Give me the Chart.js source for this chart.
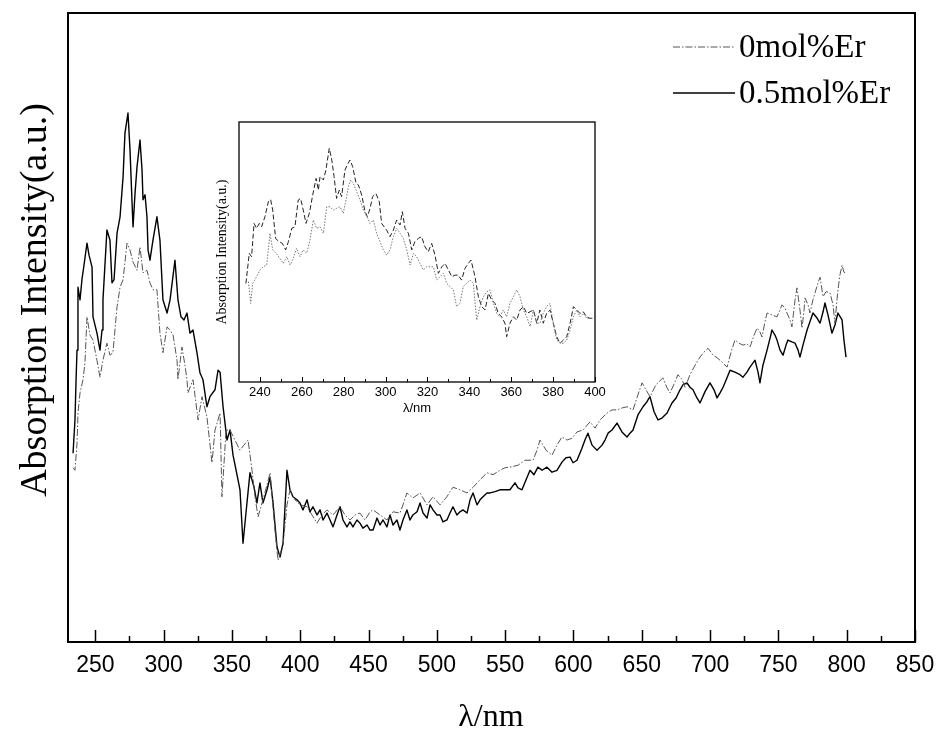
<!DOCTYPE html>
<html>
<head>
<meta charset="utf-8">
<script src="https://cdn.jsdelivr.net/npm/chart.js@4.4.0/dist/chart.umd.min.js"></script>
<style>
  body { margin: 0; background: #fff; }
  #wrap { position: relative; width: 938px; height: 731px; }
  #main { position: absolute; left: 0; top: 0; }
  #inset { position: absolute; left: 200px; top: 112px; }
</style>
</head>
<body>
<div id="wrap">
  <canvas id="main" width="938" height="731"></canvas>
  <canvas id="inset" width="410" height="308"></canvas>
</div>
<script>
// main spectrum, 0.5mol%Er (solid line)
const lambda05 = [233.7,235.1,235.9,236.6,237.3,238.8,240.2,241.7,243.9,245.4,247.6,248.3,251.2,253.4,254.9,255.6,258.5,260.7,262.2,263.7,265.9,268.1,270.3,271.7,273.9,275.4,276.8,277.6,279.0,280.5,282.7,284.2,284.9,286.4,287.8,288.6,290.0,292.2,295.1,297.3,299.5,302.5,304.7,308.3,310.5,312.7,314.9,317.1,319.3,321.5,324.4,326.6,328.8,331.7,333.9,337.6,339.8,341.3,343.5,346.4,348.6,350.8,353.7,355.9,358.1,361.0,363.2,366.2,368.3,370.5,372.7,375.7,377.9,380.1,383.0,385.2,387.4,390.3,392.5,394.7,397.6,399.8,402.0,405.0,407.1,409.3,412.3,414.5,416.7,419.6,421.8,424.0,426.9,429.1,431.3,434.2,436.4,438.6,441.5,443.7,445.9,448.9,451.1,453.3,456.2,458.4,460.6,463.5,465.7,467.9,470.8,473.0,475.2,478.1,480.3,482.5,485.5,487.7,489.9,492.8,495.0,497.2,500.1,502.3,504.5,507.4,509.6,511.8,514.7,516.9,519.1,522.1,524.3,526.5,529.4,531.6,533.8,536.7,538.9,542.6,546.2,549.9,553.5,557.2,559.4,562.3,565.3,568.2,571.1,574.0,577.0,580.6,584.3,587.9,591.6,594.5,597.5,599.7,602.6,606.2,608.4,610.6,613.6,617.2,620.9,623.1,625.3,628.2,631.9,635.5,639.2,641.4,643.6,647.2,650.9,653.8,656.0,659.0,661.9,664.8,668.5,672.1,675.1,678.0,680.2,683.1,685.3,687.5,690.4,692.6,696.3,699.9,702.9,705.1,707.3,709.5,712.4,714.6,718.2,721.9,724.1,727.0,729.2,732.9,735.1,736.5,738.7,741.7,743.9,745.3,747.5,749.0,751.2,753.4,755.6,757.0,759.9,762.2,764.4,765.8,768.0,771.0,773.1,775.3,778.3,780.5,782.7,784.1,786.3,789.2,791.4,793.6,796.6,798.0,799.5];
const int05 = [30.0,35.3,41.7,46.4,56.4,54.4,57.6,59.9,63.4,61.5,59.6,51.7,49.1,46.4,49.6,54.4,65.5,63.9,57.1,57.6,65.0,67.6,73.9,80.9,84.1,78.2,70.3,66.0,71.1,75.5,79.8,75.0,70.3,71.1,67.6,62.3,60.7,63.9,67.6,63.9,54.4,52.3,54.4,60.7,54.4,51.7,51.2,52.3,49.1,49.6,46.0,42.8,41.7,37.4,39.0,40.1,43.2,42.9,37.4,32.1,33.7,29.7,26.6,24.2,15.7,22.1,26.9,24.6,22.1,25.3,22.1,24.2,26.2,22.1,15.1,13.5,15.7,27.3,24.2,23.1,22.6,22.1,21.0,22.6,20.7,21.5,20.2,21.0,19.4,20.5,19.4,18.3,20.2,21.5,19.4,18.3,19.1,18.3,19.4,18.9,18.1,18.6,17.8,17.8,19.7,18.6,19.4,18.3,20.2,18.6,19.4,17.8,19.4,21.0,19.4,20.2,20.7,22.1,20.5,19.7,21.8,21.0,20.2,20.2,19.1,19.4,20.5,21.5,20.2,20.7,21.0,20.5,22.6,23.7,21.8,22.6,23.1,23.7,23.7,23.9,24.2,24.2,24.2,25.3,24.5,24.2,25.8,27.3,26.6,27.8,27.3,27.8,27.0,27.3,28.6,29.3,29.4,28.5,28.9,30.8,32.1,33.2,31.3,30.5,31.3,32.1,33.2,33.7,34.8,33.4,32.6,33.2,33.7,36.1,37.4,38.2,39.0,36.6,35.3,35.6,36.4,38.0,38.8,40.1,40.9,41.2,40.5,40.1,38.8,38.0,39.8,41.2,40.1,38.8,39.6,40.5,42.0,43.2,42.9,42.5,42.1,42.9,43.7,44.8,42.9,41.2,44.0,46.4,48.3,49.6,48.8,48.0,46.4,45.6,47.2,48.0,47.7,47.5,46.4,45.3,47.2,49.6,50.9,52.3,51.5,50.7,52.5,53.9,52.0,49.1,50.4,52.3,51.2,48.0,45.3];

// main spectrum, 0mol%Er (dash-dot line)
const lambda0 = [233.7,235.1,236.6,237.3,238.8,241.0,242.4,243.9,246.1,248.3,251.2,253.4,255.6,258.5,260.7,262.9,265.9,268.1,270.3,273.2,275.4,277.6,280.5,282.7,284.9,287.8,290.0,292.2,295.1,297.3,299.5,302.5,304.7,306.9,309.8,310.5,313.4,315.6,317.1,317.8,321.5,325.2,328.1,331.7,335.4,337.6,341.3,342.7,345.7,348.6,352.2,355.9,358.8,361.8,364.7,366.9,369.1,372.7,375.7,377.9,381.5,383.7,387.4,390.3,392.5,396.2,399.8,405.0,408.6,412.3,415.9,419.6,424.0,429.1,432.8,436.4,440.1,443.7,447.4,451.1,453.3,458.4,463.5,467.9,473.0,475.2,478.1,482.5,487.7,492.8,497.2,502.3,507.4,509.6,511.8,516.9,522.1,526.5,531.6,536.7,541.1,546.2,549.9,553.5,559.4,564.5,570.4,573.3,575.5,579.9,584.3,587.9,591.6,595.3,598.9,602.6,607.0,612.1,615.8,619.4,624.6,628.2,631.9,635.5,639.2,643.6,647.2,650.2,653.1,656.0,660.4,665.5,668.5,670.7,673.6,676.5,679.5,681.7,685.3,689.0,692.6,695.6,698.5,702.2,705.1,708.8,712.4,715.4,718.2,721.2,724.1,727.0,729.2,732.2,734.4,736.5,738.0,740.2,741.7,745.3,749.0,751.2,752.6,754.8,756.3,758.5,759.9,762.2,763.6,765.8,767.3,768.8,769.5,771.7,773.1,775.3,776.8,779.0,780.5,782.7,784.9,787.8,790.0,791.4,792.9,793.6,795.1,796.6,798.0,798.8];
const int0 = [27.7,27.3,31.6,36.4,39.6,41.7,44.4,51.7,48.8,48.0,44.8,42.1,44.8,47.5,45.6,46.0,53.3,56.4,57.6,63.4,62.3,60.4,59.1,62.8,58.7,59.1,57.1,56.0,56.0,49.1,46.0,50.1,49.6,48.8,44.8,41.7,46.9,44.0,41.7,39.6,41.7,35.3,39.0,35.8,28.5,33.7,36.4,23.1,33.7,33.7,32.1,30.5,31.3,32.1,27.3,23.1,19.9,22.6,25.0,26.9,17.8,13.0,15.4,21.8,24.2,22.6,21.8,21.5,20.2,18.9,20.2,21.0,20.2,21.5,20.2,19.4,20.2,20.5,19.4,20.7,21.0,20.2,19.4,20.7,20.5,21.8,23.7,22.9,23.7,21.8,23.1,21.8,23.1,23.9,24.6,24.2,23.7,24.6,25.8,26.9,26.6,27.3,27.7,27.8,28.1,28.9,28.9,30.5,32.1,30.5,29.7,31.3,32.6,32.1,32.4,33.4,33.7,35.0,34.0,35.3,36.4,36.9,36.9,37.2,37.4,36.9,39.3,41.2,40.1,39.0,40.9,42.0,40.4,39.6,41.0,42.5,41.7,40.5,42.5,44.0,45.3,46.1,46.7,45.6,45.2,44.5,43.7,46.1,48.0,47.5,47.2,47.4,46.9,48.8,49.9,49.3,48.5,50.9,52.3,52.0,51.7,52.8,53.6,53.1,52.3,51.2,50.1,54.4,56.3,52.8,49.9,52.8,54.7,53.6,52.3,54.4,55.5,57.1,58.0,54.9,55.7,55.5,53.6,50.7,54.4,56.0,58.4,59.9,58.8,58.7];

// inset (230-400 nm)
const insetLambda05 = [233.3,234.9,236.0,237.2,238.4,239.7,240.8,242.4,244.0,245.1,246.1,247.5,249.1,250.7,252.3,253.6,255.2,256.7,258.3,259.4,260.7,262.0,263.6,265.2,266.8,267.9,268.7,270.3,271.5,273.1,274.3,275.4,276.6,277.9,279.0,280.6,281.7,283.0,284.3,285.9,287.0,288.6,290.2,291.3,292.6,293.8,295.4,297.0,298.1,300.5,302.1,303.7,305.3,306.9,308.0,309.3,310.9,312.5,314.0,315.6,317.2,318.8,320.4,322.0,323.6,325.2,326.8,328.4,330.0,331.6,333.2,334.7,336.3,337.9,339.5,340.8,342.7,344.3,345.9,347.5,349.1,350.7,352.3,353.8,355.4,357.0,357.8,359.4,361.0,362.6,364.2,365.8,367.4,369.0,370.6,372.2,373.7,375.3,376.9,378.5,380.1,381.7,383.3,384.9,386.5,388.1,389.7,391.3,392.8,394.4,396.0,397.6,399.2];
const insetInt05 = [37.9,49.5,48.2,61.0,59.1,61.0,59.7,63.6,69.3,70.2,66.1,55.2,54.0,53.3,50.8,54.0,59.1,59.7,70.0,70.6,66.1,61.0,64.9,71.9,78.3,73.8,79.0,77.7,81.5,89.9,85.4,79.0,70.6,73.8,71.3,81.5,83.5,85.4,82.8,76.4,75.8,71.9,65.5,63.6,66.8,71.3,72.5,69.3,61.0,58.4,55.9,58.4,62.3,60.4,65.5,59.1,57.2,50.8,54.0,55.2,55.9,52.0,50.1,53.3,48.8,41.8,44.3,45.6,43.1,40.5,41.1,41.1,39.2,43.7,45.6,46.9,40.5,32.8,29.0,27.7,34.1,31.5,30.2,26.4,25.1,22.6,17.4,22.6,25.1,23.8,27.7,29.0,26.4,27.0,27.7,22.6,27.7,22.6,26.4,27.7,22.6,17.4,14.9,16.1,17.4,22.6,29.0,27.7,26.4,27.0,25.1,24.5,24.5];
const insetLambda0 = [234.5,235.6,236.5,238.4,240.0,241.6,243.2,244.0,244.8,246.1,247.7,249.6,251.2,252.8,254.4,255.9,257.5,259.1,260.7,262.3,263.9,265.5,267.1,268.7,270.3,271.9,273.5,275.0,276.6,278.2,279.8,281.4,282.2,283.3,284.6,286.2,287.8,289.4,291.0,292.6,294.2,295.7,297.3,298.9,300.5,302.1,303.7,305.3,306.9,308.5,310.1,311.7,313.3,314.8,316.4,318.0,319.6,321.2,322.8,324.4,326.0,327.6,329.2,330.8,332.4,333.9,335.5,337.1,338.7,340.3,341.9,343.5,345.1,346.7,348.3,349.9,351.5,353.1,354.6,356.2,357.8,359.4,361.0,362.6,364.2,365.8,367.4,369.0,370.6,372.2,373.7,375.3,376.9,378.5,380.1,381.7,383.3,384.9,386.5,388.1,389.7,391.3,392.8,394.4,396.0,397.6,399.2];
const insetInt0 = [38.6,30.2,37.9,40.5,43.1,44.3,45.0,50.8,57.2,50.8,49.5,47.5,45.6,48.2,45.0,47.5,51.4,48.2,50.8,49.5,54.6,62.3,59.1,59.7,57.2,67.4,67.4,66.1,66.8,67.4,64.9,71.3,75.1,77.7,76.4,73.2,70.0,66.1,63.6,61.0,62.3,57.2,54.0,50.8,48.8,50.8,55.9,59.1,57.2,55.2,50.8,45.0,49.5,48.2,45.6,43.1,44.3,44.3,44.3,39.2,40.5,41.8,37.9,36.7,35.4,29.0,30.2,36.7,37.9,39.2,37.9,23.8,29.0,32.8,34.7,35.4,30.2,26.4,25.1,27.7,25.1,30.2,32.8,35.4,32.8,27.7,25.1,21.3,27.7,22.6,22.6,26.4,29.0,30.2,22.6,16.1,14.9,14.9,16.1,20.0,25.1,27.7,25.1,26.4,24.5,24.5,24.5];

const xTicks = [250, 300, 350, 400, 450, 500, 550, 600, 650, 700, 750, 800, 850];
const insetTicks = [240, 260, 280, 300, 320, 340, 360, 380, 400];
const seriesNames = ['0mol%Er', '0.5mol%Er'];

const serif = '"Liberation Serif", "Times New Roman", serif';
const sans = '"Liberation Sans", Arial, sans-serif';

function pairs(xs, ys) {
  return xs.map((x, i) => ({ x: x, y: ys[i] }));
}

// frame box + inward ticks on the bottom axis
const frameTicks = {
  id: 'frameTicks',
  afterDraw(chart, args, o) {
    const { ctx, chartArea: a } = chart;
    const x = chart.scales.x;
    ctx.save();
    ctx.strokeStyle = '#000';
    ctx.lineWidth = o.frameWidth;
    ctx.strokeRect(a.left, a.top, a.right - a.left, a.bottom - a.top);
    ctx.lineWidth = o.tickWidth;
    for (let v = o.start; v <= x.max; v += o.minorStep) {
      const px = Math.round(x.getPixelForValue(v)) + 0.5;
      const len = (v % o.majorStep === 0) ? o.majorLen : o.minorLen;
      ctx.beginPath();
      ctx.moveTo(px, a.bottom);
      ctx.lineTo(px, a.bottom - len);
      ctx.stroke();
    }
    ctx.restore();
  }
};

// axis titles and the legend
const texts = {
  id: 'texts',
  afterDraw(chart, args, o) {
    const ctx = chart.ctx;
    ctx.save();
    ctx.fillStyle = '#000';
    ctx.textAlign = 'center';
    ctx.textBaseline = 'alphabetic';
    ctx.font = o.xFont;
    ctx.fillText(o.xTitle, o.xPos[0], o.xPos[1]);
    ctx.save();
    ctx.translate(o.yPos[0], o.yPos[1]);
    ctx.rotate(-Math.PI / 2);
    ctx.font = o.yFont;
    ctx.fillText(o.yTitle, 0, 0);
    ctx.restore();
    if (o.legend) {
      const lg = o.legend;
      chart.data.datasets.forEach((ds, i) => {
        const y = lg.y + i * lg.gap;
        ctx.strokeStyle = ds.borderColor;
        ctx.lineWidth = ds.borderWidth;
        ctx.setLineDash(ds.borderDash || []);
        ctx.beginPath();
        ctx.moveTo(lg.x1, y - 10);
        ctx.lineTo(lg.x2, y - 10);
        ctx.stroke();
        ctx.setLineDash([]);
        ctx.textAlign = 'left';
        ctx.font = lg.font;
        ctx.fillText(ds.label, lg.tx, y);
      });
    }
    ctx.restore();
  }
};

Chart.register(frameTicks, texts);

new Chart(document.getElementById('main'), {
  type: 'line',
  data: {
    datasets: [
      {
        label: seriesNames[0],
        data: pairs(lambda0, int0),
        borderColor: '#555',
        borderWidth: 1,
        borderDash: [7, 2, 1.5, 2],
      },
      {
        label: seriesNames[1],
        data: pairs(lambda05, int05),
        borderColor: '#000',
        borderWidth: 1.4,
      },
    ],
  },
  options: {
    responsive: false,
    animation: false,
    devicePixelRatio: 1,
    layout: { padding: { top: 13, right: 23, left: 0, bottom: 0 } },
    elements: { point: { radius: 0 }, line: { tension: 0, borderJoinStyle: 'round' } },
    plugins: {
      legend: { display: false },
      tooltip: { enabled: false },
      frameTicks: { frameWidth: 2, tickWidth: 1.5, start: 250, minorStep: 25, majorStep: 50, majorLen: 12, minorLen: 6 },
      texts: {
        xTitle: 'λ/nm', xFont: '32px ' + serif, xPos: [491, 726],
        yTitle: 'Absorption Intensity(a.u.)', yFont: '38px ' + serif, yPos: [46, 300],
        legend: { x1: 673, x2: 735, tx: 739, y: 57, gap: 46, font: '33px ' + serif },
      },
    },
    scales: {
      x: {
        type: 'linear', min: 230, max: 850,
        grid: { display: false, drawTicks: false },
        border: { display: false },
        ticks: { color: '#000', font: { family: sans, size: 23 }, padding: 10, maxRotation: 0, autoSkip: false },
        afterBuildTicks: (s) => { s.ticks = xTicks.map((v) => ({ value: v })); },
        afterFit: (s) => { s.height = 89; s.paddingLeft = 0; s.paddingRight = 0; },
      },
      y: {
        min: 0, max: 100,
        ticks: { display: false },
        grid: { display: false, drawTicks: false },
        border: { display: false },
        afterFit: (s) => { s.width = 68; },
      },
    },
  },
});

new Chart(document.getElementById('inset'), {
  type: 'line',
  data: {
    datasets: [
      {
        label: seriesNames[0],
        data: pairs(insetLambda0, insetInt0),
        borderColor: '#777',
        borderWidth: 1,
        borderDash: [1.5, 1.5],
      },
      {
        label: seriesNames[1],
        data: pairs(insetLambda05, insetInt05),
        borderColor: '#222',
        borderWidth: 1,
        borderDash: [5, 2.5],
      },
    ],
  },
  options: {
    responsive: false,
    animation: false,
    devicePixelRatio: 1,
    layout: { padding: { top: 10, right: 15, left: 0, bottom: 0 } },
    elements: { point: { radius: 0 }, line: { tension: 0 } },
    plugins: {
      legend: { display: false },
      tooltip: { enabled: false },
      frameTicks: { frameWidth: 1.3, tickWidth: 1, start: 240, minorStep: 10, majorStep: 20, majorLen: 5, minorLen: 3 },
      texts: {
        xTitle: 'λ/nm', xFont: '13px ' + sans, xPos: [217, 300],
        yTitle: 'Absorption Intensity(a.u.)', yFont: '14px ' + serif, yPos: [26, 140],
      },
    },
    scales: {
      x: {
        type: 'linear', min: 230, max: 400,
        grid: { display: false, drawTicks: false },
        border: { display: false },
        ticks: { color: '#000', font: { family: sans, size: 13 }, padding: 3, maxRotation: 0, autoSkip: false },
        afterBuildTicks: (s) => { s.ticks = insetTicks.map((v) => ({ value: v })); },
        afterFit: (s) => { s.height = 38; s.paddingLeft = 0; s.paddingRight = 0; },
      },
      y: {
        min: 0, max: 100,
        ticks: { display: false },
        grid: { display: false, drawTicks: false },
        border: { display: false },
        afterFit: (s) => { s.width = 39; },
      },
    },
  },
});
</script>
</body>
</html>
